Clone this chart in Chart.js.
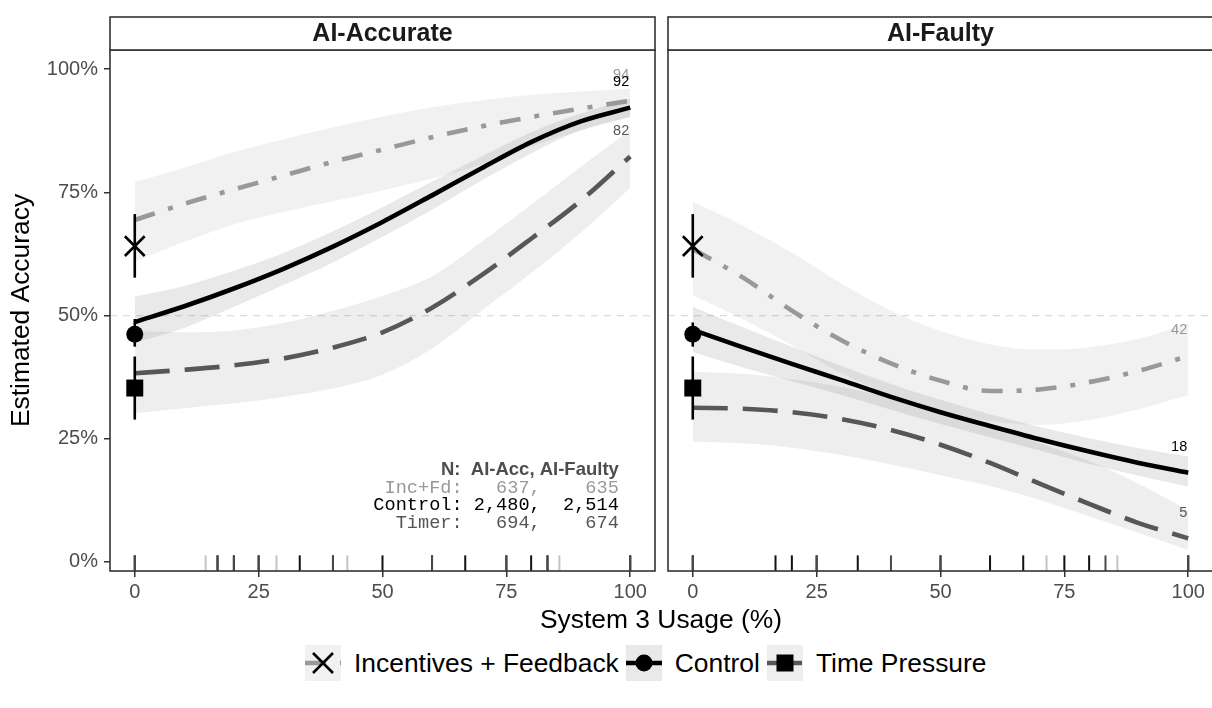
<!DOCTYPE html>
<html>
<head>
<meta charset="utf-8">
<script src="https://cdn.jsdelivr.net/npm/chart.js@4.4.0/dist/chart.umd.min.js"></script>
<style>
html,body{margin:0;padding:0;background:#fff;width:1212px;height:708px;overflow:hidden;font-family:"Liberation Sans",Arial,sans-serif;}
#wrapA{position:absolute;left:0;top:0;width:660px;height:640px;}
#wrapB{position:absolute;left:660px;top:0;width:553px;height:640px;}
#xtitle{position:absolute;left:110px;width:1102px;top:604px;text-align:center;font-size:26.4px;line-height:30px;color:#000;}
#legend{position:absolute;left:305px;top:645px;height:36px;display:flex;align-items:center;font-size:26.4px;color:#000;white-space:nowrap;}
#legend .key{width:36px;height:36px;margin-right:13px;}
#legend .lab{margin-right:7px;}
</style>
</head>
<body>
<div id="wrapA"><canvas id="cA" width="660" height="640"></canvas></div>
<div id="wrapB"><canvas id="cB" width="553" height="640"></canvas></div>
<div id="xtitle"></div>
<div id="legend"></div>
<script>
// ---------------- DATA ----------------
const PANELS = ['AI-Accurate', 'AI-Faulty'];
const GROUPS = ['Incentives + Feedback', 'Control', 'Time Pressure'];
const X_TITLE = 'System 3 Usage (%)';
const Y_TITLE = 'Estimated Accuracy';
const X_TICKS = [0, 25, 50, 75, 100];
const Y_TICKS = [0, 25, 50, 75, 100];
const REF_LINE = 50;

const X_GRID = [0, 10, 20, 30, 40, 50, 60, 70, 80, 90, 100];

// AI-Accurate panel: fitted curves and confidence bands (%)
const acc_inc    = [69.4, 72.7, 75.6, 78.4, 81.2, 83.7, 86.2, 88.4, 90.3, 92.0, 93.6];
const acc_inc_hi = [77.1, 80.0, 83.2, 85.8, 88.2, 90.4, 92.3, 93.7, 94.8, 95.5, 96.1];
const acc_inc_lo = [61.0, 65.0, 68.5, 71.0, 73.2, 75.4, 77.8, 80.6, 84.3, 87.5, 90.3];
const acc_ctl    = [48.7, 51.9, 55.5, 59.5, 64.0, 69.0, 74.4, 79.9, 85.2, 89.4, 92.2];
const acc_ctl_hi = [53.9, 56.0, 59.1, 62.7, 67.1, 72.0, 77.2, 82.3, 87.2, 91.0, 94.1];
const acc_ctl_lo = [44.5, 47.5, 51.8, 56.2, 60.8, 66.0, 71.5, 77.4, 82.9, 87.6, 90.3];
const acc_tim    = [38.3, 39.0, 39.9, 41.3, 43.5, 46.6, 51.6, 58.2, 65.6, 73.3, 82.3];
const acc_tim_hi = [46.8, 46.6, 47.0, 48.5, 51.0, 54.0, 58.0, 65.0, 72.5, 80.2, 87.7];
const acc_tim_lo = [30.2, 31.2, 32.2, 33.5, 35.2, 38.0, 43.3, 51.0, 58.6, 66.8, 75.9];

// AI-Faulty panel
const fau_inc    = [63.5, 57.8, 51.0, 45.0, 40.3, 36.8, 34.7, 35.0, 36.5, 38.8, 41.8];
const fau_inc_hi = [73.1, 68.3, 62.8, 56.5, 51.0, 46.9, 44.2, 43.1, 43.6, 45.3, 48.4];
const fau_inc_lo = [54.2, 49.3, 44.0, 38.3, 33.8, 30.6, 28.6, 27.8, 28.8, 31.0, 33.9];
const fau_ctl    = [47.1, 43.6, 40.2, 36.9, 33.5, 30.4, 27.6, 24.9, 22.4, 20.1, 18.1];
const fau_ctl_hi = [51.8, 47.7, 43.7, 39.8, 36.1, 32.9, 30.0, 27.4, 25.1, 23.1, 21.4];
const fau_ctl_lo = [42.6, 39.5, 36.7, 33.9, 30.9, 28.0, 25.3, 22.6, 19.9, 17.5, 15.3];
const fau_tim    = [31.3, 31.1, 30.4, 29.0, 26.8, 23.8, 20.1, 15.9, 11.8, 7.9, 4.8];
const fau_tim_hi = [38.6, 38.2, 37.1, 35.5, 33.2, 30.5, 27.4, 24.1, 20.5, 15.9, 10.5];
const fau_tim_lo = [24.4, 24.1, 23.2, 21.7, 19.8, 17.6, 15.4, 12.6, 9.3, 5.9, 2.4];

// Observed accuracy at 0% usage (mean, low, high), per group
const acc_pt = [64.1, 46.2, 35.3];
const acc_pt_lo = [57.7, 43.7, 28.9];
const acc_pt_hi = [70.6, 49.3, 41.7];
const fau_pt = [64.1, 46.2, 35.3];
const fau_pt_lo = [57.7, 43.7, 28.9];
const fau_pt_hi = [70.6, 48.6, 41.7];

// Rug: observed usage values per group
const acc_rug_inc = [0, 14.3, 28.6, 42.9, 85.7, 100];
const acc_rug_ctl = [0, 16.7, 20, 25, 33.3, 40, 50, 60, 66.7, 75, 80, 83.3, 100];
const acc_rug_tim = [0, 16.7, 20, 25, 40, 60, 75, 83.3, 100];
const fau_rug_inc = [0, 71.4, 85.7, 100];
const fau_rug_ctl = [0, 16.7, 20, 25, 33.3, 50, 60, 66.7, 75, 80, 100];
const fau_rug_tim = [0, 25, 40, 50, 83.3, 100];

// Sample-size annotation
const N_HEADER = 'N:  AI-Acc, AI-Faulty';
const N_LINES = ['Inc+Fd:   637,    635', 'Control: 2,480,  2,514', 'Timer:   694,    674'];

// ---------------- STYLE ----------------
const LINE_COLORS = ['#999999', '#000000', '#575757'];
const RUG_COLORS = ['#c4c4c4', '#111111', '#4a4a4a'];
const BAND_FILLS = ['rgba(0,0,0,0.055)', 'rgba(0,0,0,0.085)', 'rgba(0,0,0,0.065)'];
const DASHES = [[21, 14, 5, 14], [], [35, 15]];
const SHAPES = ['crossRot', 'circle', 'rect'];
const SHAPE_R = [14, 8.5, 12];
const ANNOT_COLORS = ['#999999', '#000000', '#555555'];

Chart.defaults.font.family = "'Liberation Sans', Arial, sans-serif";

const pts = (xs, ys) => xs.map((x, i) => ({x: x, y: ys[i]}));

const panelPlugin = {
  id: 'panel',
  beforeDatasetsDraw(chart) {
    const {ctx, chartArea: a, scales: {y}} = chart;
    ctx.save();
    ctx.strokeStyle = '#dcdcdc';
    ctx.lineWidth = 1.4;
    ctx.setLineDash([7, 6]);
    const py = y.getPixelForValue(REF_LINE);
    ctx.beginPath(); ctx.moveTo(a.left, py); ctx.lineTo(a.right, py); ctx.stroke();
    ctx.restore();
  },
  afterDatasetsDraw(chart, args, o) {
    const {ctx, chartArea: a, scales: {x, y}} = chart;
    ctx.save();
    // rug
    const rl = 0.03 * (a.bottom - a.top);
    o.rugs.forEach((arr, g) => {
      ctx.strokeStyle = RUG_COLORS[g];
      ctx.lineWidth = 2;
      arr.forEach(v => {
        const px = x.getPixelForValue(v);
        ctx.beginPath(); ctx.moveTo(px, a.bottom); ctx.lineTo(px, a.bottom - rl); ctx.stroke();
      });
    });
    // end labels
    ctx.font = '14.5px "Liberation Sans", Arial, sans-serif';
    ctx.textAlign = 'right';
    ctx.textBaseline = 'middle';
    o.lines.forEach((arr, g) => {
      const last = arr[arr.length - 1];
      ctx.fillStyle = LINE_COLORS[g];
      ctx.fillText(String(Math.round(last)), x.getPixelForValue(X_GRID[X_GRID.length - 1]) - 1, y.getPixelForValue(last + 5.2));
    });
    // annotation
    if (o.annot) {
      const ax = x.getPixelForValue(97.7);
      ctx.textAlign = 'right';
      ctx.fillStyle = '#4d4d4d';
      ctx.font = 'bold 18.5px "Liberation Sans", Arial, sans-serif';
      ctx.fillText(N_HEADER, ax, y.getPixelForValue(18.6));
      ctx.font = '18.6px "Liberation Mono", "DejaVu Sans Mono", monospace';
      const ys = [15.0, 11.6, 7.9];
      N_LINES.forEach((t, i) => {
        ctx.fillStyle = ANNOT_COLORS[i];
        ctx.fillText(t, ax, y.getPixelForValue(ys[i]));
      });
    }
    ctx.restore();
  },
  afterDraw(chart, args, o) {
    const {ctx, chartArea: a} = chart;
    ctx.save();
    ctx.strokeStyle = '#333333';
    ctx.lineWidth = 1.6;
    ctx.strokeRect(a.left, a.top, a.right - a.left, a.bottom - a.top);
    // strip
    const sh = 33;
    ctx.fillStyle = '#ffffff';
    ctx.fillRect(a.left, a.top - sh, a.right - a.left, sh);
    ctx.strokeRect(a.left, a.top - sh, a.right - a.left, sh);
    ctx.fillStyle = '#1a1a1a';
    ctx.font = 'bold 25px "Liberation Sans", Arial, sans-serif';
    ctx.textAlign = 'center';
    ctx.textBaseline = 'middle';
    ctx.fillText(o.title, (a.left + a.right) / 2, a.top - sh / 2 + 1);
    ctx.restore();
  }
};

function makeChart(id, p) {
  const ds = [];
  for (let g = 0; g < 3; g++) {
    ds.push({type: 'scatter', data: [{x: 0, y: p.pt[g]}], pointStyle: SHAPES[g], pointRadius: SHAPE_R[g],
      pointBackgroundColor: '#000', pointBorderColor: '#000', pointBorderWidth: g === 0 ? 2.6 : 0, order: 0});
  }
  for (let g = 0; g < 3; g++) {
    ds.push({type: 'line', data: [{x: 0, y: p.ptLo[g]}, {x: 0, y: p.ptHi[g]}], borderColor: '#000', borderWidth: 2.6,
      pointRadius: 0, fill: false, order: 1});
  }
  for (let g = 0; g < 3; g++) {
    ds.push({type: 'line', data: pts(X_GRID, p.lines[g]), borderColor: LINE_COLORS[g], borderWidth: 4.6,
      borderDash: DASHES[g], borderCapStyle: 'butt', pointRadius: 0, fill: false, cubicInterpolationMode: 'monotone', order: 2 + g});
  }
  for (let g = 0; g < 3; g++) {
    const idx = ds.length;
    ds.push({type: 'line', data: pts(X_GRID, p.his[g]), borderWidth: 0, borderColor: 'rgba(0,0,0,0)', pointRadius: 0,
      cubicInterpolationMode: 'monotone', fill: {target: idx + 1}, backgroundColor: BAND_FILLS[g], order: 10 + g});
    ds.push({type: 'line', data: pts(X_GRID, p.los[g]), borderWidth: 0, borderColor: 'rgba(0,0,0,0)', pointRadius: 0,
      cubicInterpolationMode: 'monotone', fill: false, order: 10 + g});
  }
  return new Chart(document.getElementById(id), {
    type: 'line',
    data: {datasets: ds},
    plugins: [panelPlugin],
    options: {
      responsive: false, animation: false, devicePixelRatio: 1,
      layout: {autoPadding: false, padding: {left: p.showY ? 0 : 8, right: p.showY ? 5 : 0, top: 50, bottom: 0}},
      plugins: {legend: {display: false}, tooltip: {enabled: false},
        panel: {title: p.title, rugs: p.rugs, lines: p.lines, annot: p.annot}},
      scales: {
        x: {type: 'linear', min: -5, max: 105,
          afterBuildTicks: s => { s.ticks = X_TICKS.map(v => ({value: v})); },
          afterFit: s => { s.height = 69; s.paddingLeft = 0; s.paddingRight = 0; },
          grid: {display: true, drawOnChartArea: false, drawTicks: true, tickLength: 6, color: '#333', lineWidth: 1.5},
          border: {display: false},
          ticks: {font: {size: 20}, color: '#4d4d4d', padding: 3, maxRotation: 0, autoSkip: false, callback: v => String(v)}},
        y: {type: 'linear', min: -1.83, max: 103.9, display: p.showY,
          afterBuildTicks: s => { s.ticks = Y_TICKS.map(v => ({value: v})); },
          afterFit: s => { s.width = p.showY ? 110 : 0; s.paddingTop = 0; s.paddingBottom = 0; },
          grid: {display: true, drawOnChartArea: false, drawTicks: true, tickLength: 6, color: '#333', lineWidth: 1.5},
          border: {display: false},
          ticks: {font: {size: 20}, color: '#4d4d4d', padding: 6, callback: v => v + '%'},
          title: {display: true, text: Y_TITLE, font: {size: 26.4}, color: '#000', padding: {top: 6, bottom: 0}}}
      }
    }
  });
}

makeChart('cA', {title: PANELS[0], showY: true, annot: true,
  lines: [acc_inc, acc_ctl, acc_tim], his: [acc_inc_hi, acc_ctl_hi, acc_tim_hi], los: [acc_inc_lo, acc_ctl_lo, acc_tim_lo],
  pt: acc_pt, ptLo: acc_pt_lo, ptHi: acc_pt_hi, rugs: [acc_rug_inc, acc_rug_ctl, acc_rug_tim]});
makeChart('cB', {title: PANELS[1], showY: false, annot: false,
  lines: [fau_inc, fau_ctl, fau_tim], his: [fau_inc_hi, fau_ctl_hi, fau_tim_hi], los: [fau_inc_lo, fau_ctl_lo, fau_tim_lo],
  pt: fau_pt, ptLo: fau_pt_lo, ptHi: fau_pt_hi, rugs: [fau_rug_inc, fau_rug_ctl, fau_rug_tim]});

document.getElementById('xtitle').textContent = X_TITLE;

// legend
const KEY_FILLS = ['#f1f1f1', '#e9e9e9', '#eeeeee'];
const leg = document.getElementById('legend');
GROUPS.forEach((name, g) => {
  let mark = '';
  if (g === 0) mark = '<path d="M8,8 L28,28 M28,8 L8,28" stroke="#000" stroke-width="2.6"/>';
  if (g === 1) mark = '<circle cx="18" cy="18" r="8.5" fill="#000"/>';
  if (g === 2) mark = '<rect x="9.5" y="9.5" width="17" height="17" fill="#000"/>';
  const dash = DASHES[g].length ? 'stroke-dasharray="' + DASHES[g].join(',') + '"' : '';
  const svg = '<svg class="key" viewBox="0 0 36 36" width="36" height="36"><rect x="0" y="0" width="36" height="36" fill="' + KEY_FILLS[g] + '"/>' +
    '<line x1="0" y1="18" x2="36" y2="18" stroke="' + LINE_COLORS[g] + '" stroke-width="4.6" ' + dash + '/>' + mark + '</svg>';
  const wrap = document.createElement('span');
  wrap.style.display = 'flex'; wrap.style.alignItems = 'center';
  wrap.innerHTML = svg + '<span class="lab">' + name + '</span>';
  leg.appendChild(wrap);
});
</script>
</body>
</html>
